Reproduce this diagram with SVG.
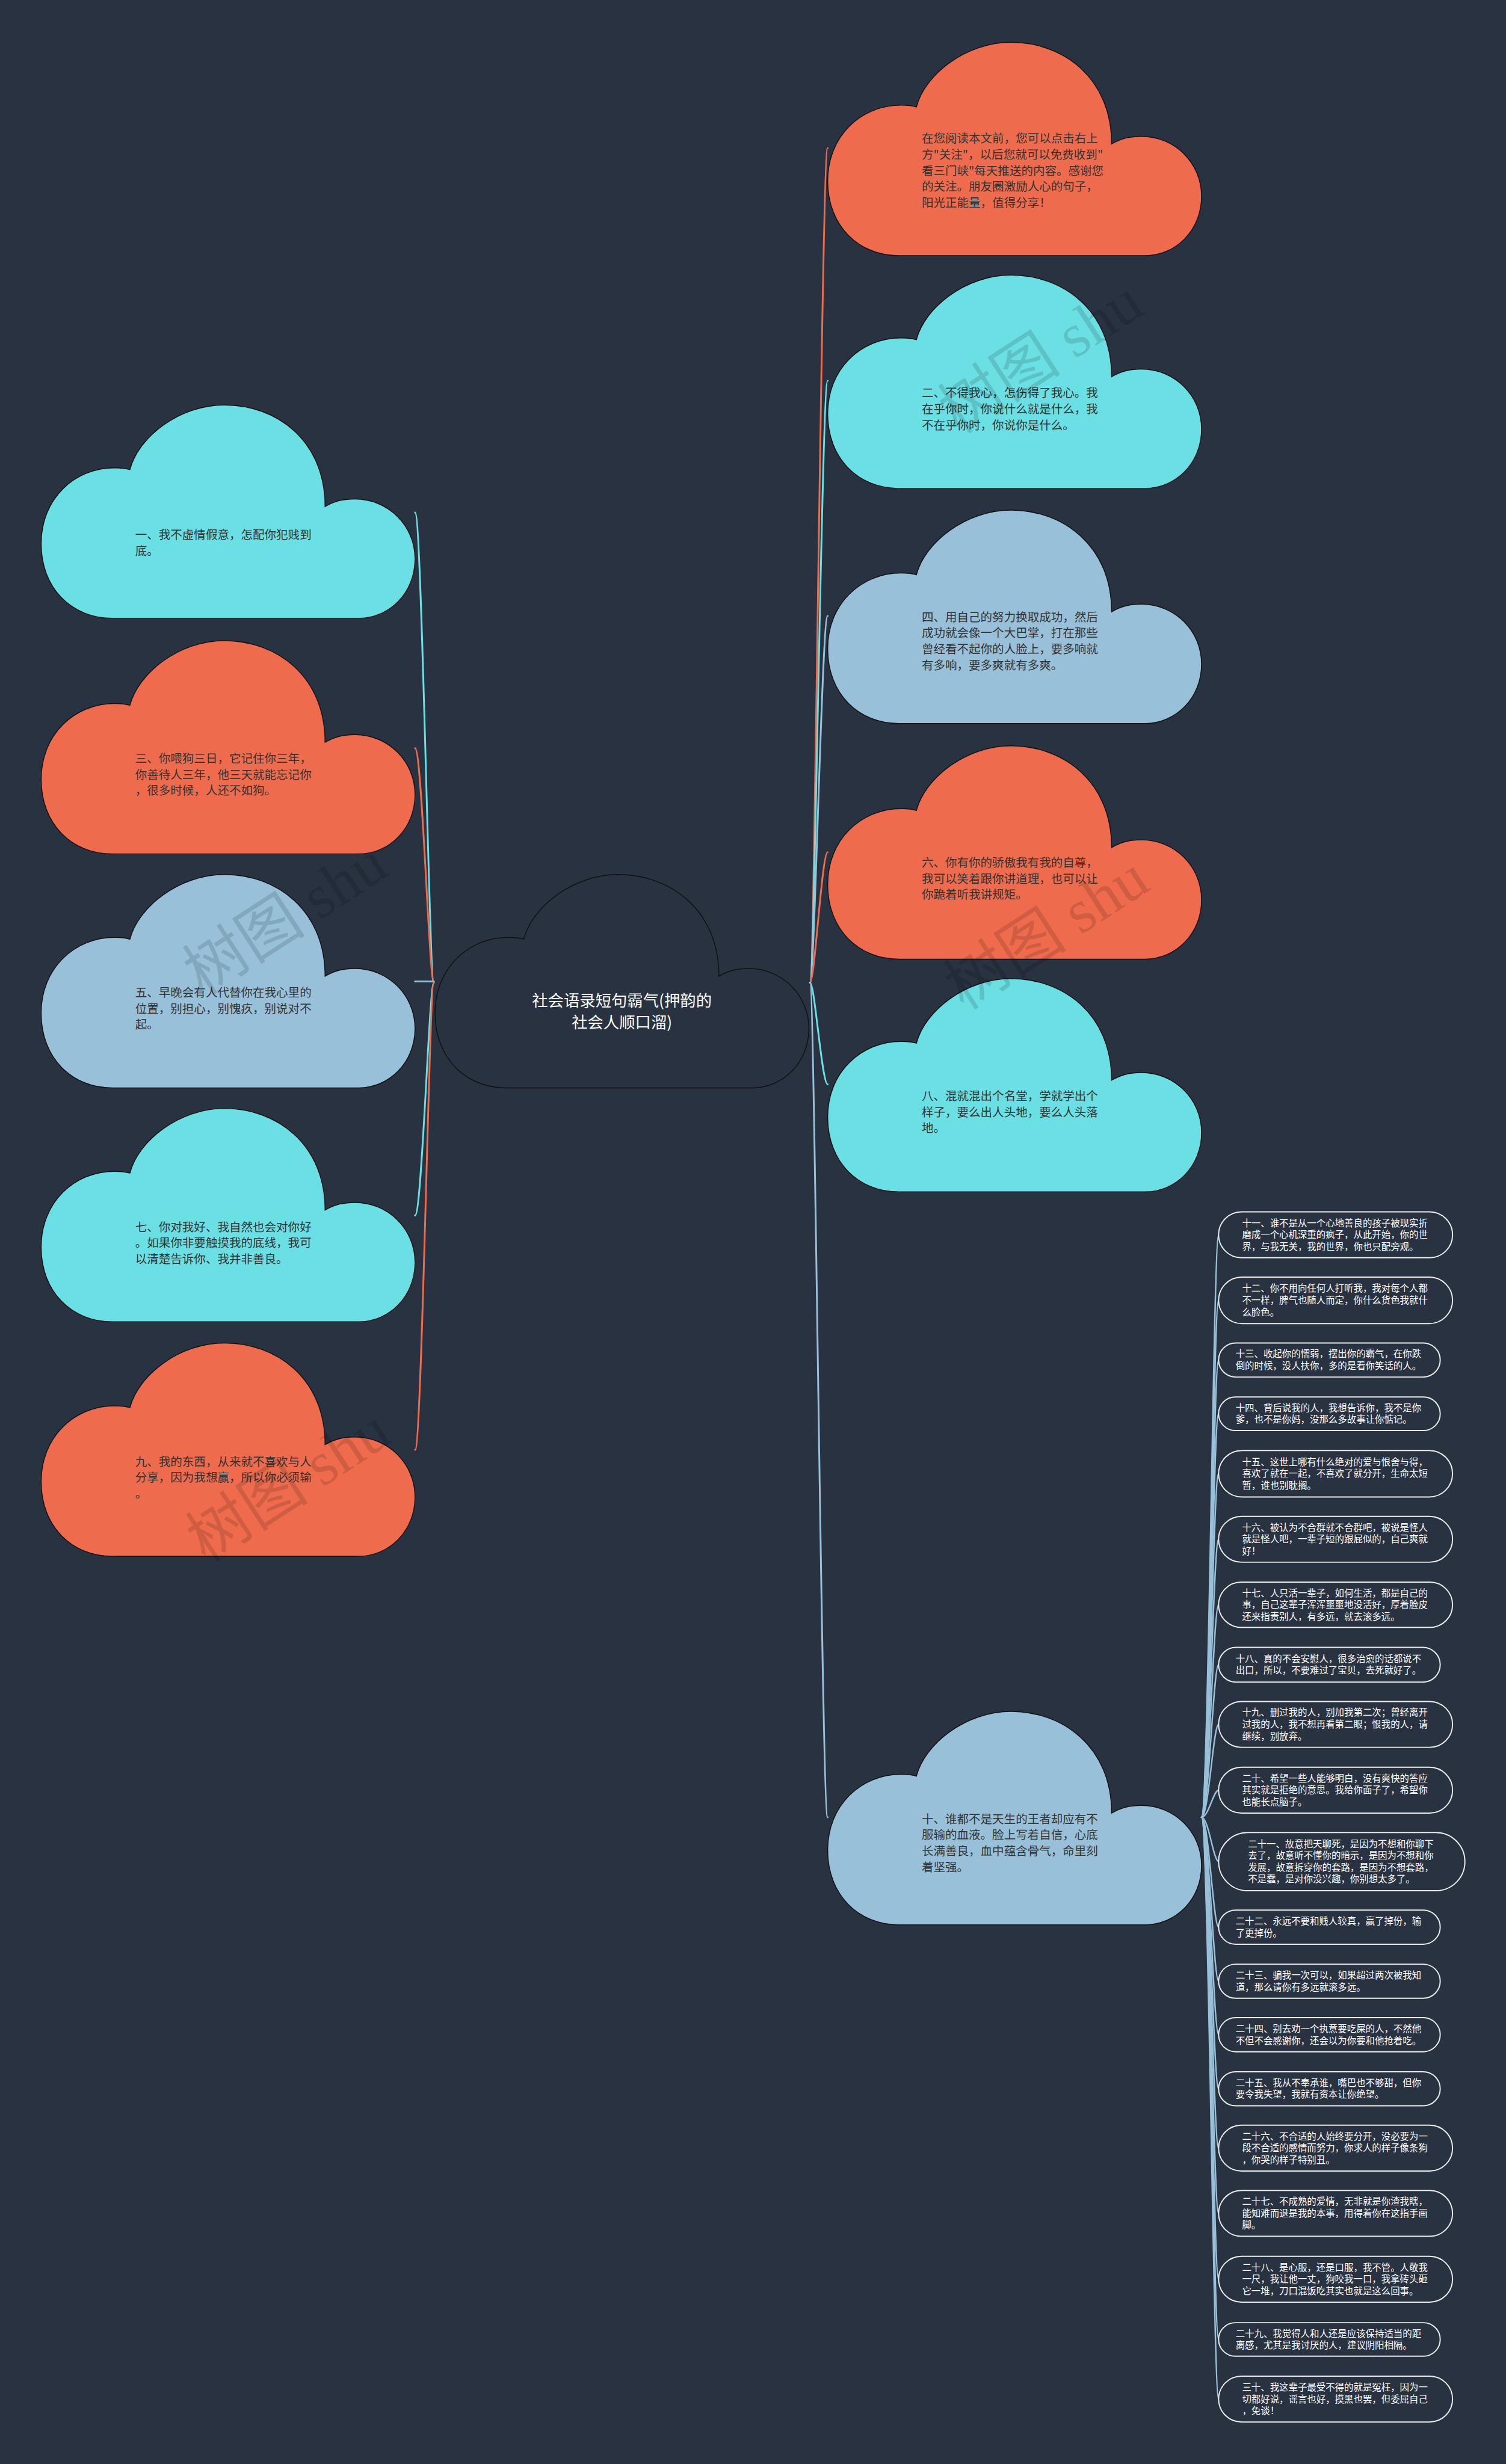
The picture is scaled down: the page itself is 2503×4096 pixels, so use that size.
<svg xmlns="http://www.w3.org/2000/svg" xmlns:xlink="http://www.w3.org/1999/xlink" width="2503" height="4096" viewBox="0 0 2503 4096">
<style>
.bg{fill:#293241}
.cl{stroke:#111;stroke-width:1.5}
.o{fill:#ee6c4d}.c{fill:#6be0e4}.b{fill:#98c1d9}.d{fill:#293241}
.ct{font-family:"Noto Sans CJK SC","Noto Sans",sans-serif;font-size:20px;fill:#333}
.mt{font-family:"Noto Sans CJK SC","Noto Sans",sans-serif;font-size:27px;fill:#fff;text-anchor:middle}
.bx{fill:#293241;stroke:#ececec;stroke-width:2}
.bt{font-family:"Noto Sans CJK SC","Noto Sans",sans-serif;font-size:15.8px;fill:#fff}
.ln{fill:none;stroke-width:3;stroke-linecap:round}
.lo{stroke:#ee6c4d}.lc{stroke:#6be0e4}.lb{stroke:#98c1d9}
.wm{font-family:"Liberation Serif","Noto Sans CJK SC",serif;font-size:105px;fill:#000;opacity:0.13}
</style>
<defs>
<path id="cloud" d="M151,110 C165,55 235,0 312,0 C400,0 483,60 483,173 C500,163 515,160 534,160 C590,160 636,205 636,262 C636,320 592,363 540,363 L121,363 C52,363 0,312 0,236 C0,160 56,107 125,107 C136,107 145,108 151,110 Z"/>
</defs>
<rect class="bg" x="0" y="0" width="2503" height="4096"/>
<g transform="scale(0.977)">
<g id="connectors">
<path class="ln lo" d="M1378,1672 C1386,1672 1398,252 1408,252"/>
<path class="ln lc" d="M1378,1672 C1386,1672 1398,648 1408,648"/>
<path class="ln lb" d="M1378,1672 C1386,1672 1398,1048 1408,1048"/>
<path class="ln lo" d="M1378,1672 C1386,1672 1398,1450 1408,1450"/>
<path class="ln lc" d="M1378,1672 C1386,1672 1398,1845 1408,1845"/>
<path class="ln lb" d="M1378,1672 C1386,1672 1398,3092 1408,3092"/>
<path class="ln lc" d="M738,1672 C730,1672 718,872 706,872"/>
<path class="ln lo" d="M738,1672 C730,1672 718,1273 706,1273"/>
<path class="ln lb" d="M738,1670 L706,1670"/>
<path class="ln lc" d="M738,1672 C730,1672 718,2068 706,2068"/>
<path class="ln lo" d="M738,1672 C730,1672 718,2467 706,2467"/>
<g class="ln lb" style="stroke-width:2.5">
<path d="M2044,3092 C2056,3092 2064,2101 2073,2101"/>
<path d="M2044,3092 C2056,3092 2064,2212 2073,2212"/>
<path d="M2044,3092 C2056,3092 2064,2314 2073,2314"/>
<path d="M2044,3092 C2056,3092 2064,2405 2073,2405"/>
<path d="M2044,3092 C2056,3092 2064,2507 2073,2507"/>
<path d="M2044,3092 C2056,3092 2064,2619 2073,2619"/>
<path d="M2044,3092 C2056,3092 2064,2730 2073,2730"/>
<path d="M2044,3092 C2056,3092 2064,2832 2073,2832"/>
<path d="M2044,3092 C2056,3092 2064,2934 2073,2934"/>
<path d="M2044,3092 C2056,3092 2064,3046 2073,3046"/>
<path d="M2044,3092 C2056,3092 2064,3167 2073,3167"/>
<path d="M2044,3092 C2056,3092 2064,3279 2073,3279"/>
<path d="M2044,3092 C2056,3092 2064,3371 2073,3371"/>
<path d="M2044,3092 C2056,3092 2064,3462 2073,3462"/>
<path d="M2044,3092 C2056,3092 2064,3554 2073,3554"/>
<path d="M2044,3092 C2056,3092 2064,3655 2073,3655"/>
<path d="M2044,3092 C2056,3092 2064,3766 2073,3766"/>
<path d="M2044,3092 C2056,3092 2064,3878 2073,3878"/>
<path d="M2044,3092 C2056,3092 2064,3980 2073,3980"/>
<path d="M2044,3092 C2056,3092 2064,4082 2073,4082"/>
</g>
</g>

<g id="center">
<use href="#cloud" class="cl d" x="740" y="1488"/>
<text class="mt" x="1058" y="1712">社会语录短句霸气(押韵的</text>
<text class="mt" x="1058" y="1749">社会人顺口溜)</text>
</g>

<g id="r1">
<use href="#cloud" class="cl o" x="1408" y="72"/>
<text class="ct" x="1568" y="243"><tspan x="1568">在您阅读本文前，您可以点击右上</tspan><tspan x="1568" dy="27.3">方"关注"，以后您就可以免费收到"</tspan><tspan x="1568" dy="27.3">看三门峡"每天推送的内容。感谢您</tspan><tspan x="1568" dy="27.3">的关注。朋友圈激励人心的句子，</tspan><tspan x="1568" dy="27.3">阳光正能量，值得分享！</tspan></text>
</g>
<g id="r2">
<use href="#cloud" class="cl c" x="1408" y="468"/>
<text class="ct" x="1568" y="676"><tspan x="1568">二、不得我心，怎伤得了我心。我</tspan><tspan x="1568" dy="27.3">在乎你时，你说什么就是什么，我</tspan><tspan x="1568" dy="27.3">不在乎你时，你说你是什么。</tspan></text>
</g>
<g id="r4">
<use href="#cloud" class="cl b" x="1408" y="868"/>
<text class="ct" x="1568" y="1057"><tspan x="1568">四、用自己的努力换取成功，然后</tspan><tspan x="1568" dy="27.3">成功就会像一个大巴掌，打在那些</tspan><tspan x="1568" dy="27.3">曾经看不起你的人脸上，要多响就</tspan><tspan x="1568" dy="27.3">有多响，要多爽就有多爽。</tspan></text>
</g>
<g id="r6">
<use href="#cloud" class="cl o" x="1408" y="1269"/>
<text class="ct" x="1568" y="1475"><tspan x="1568">六、你有你的骄傲我有我的自尊，</tspan><tspan x="1568" dy="27.3">我可以笑着跟你讲道理，也可以让</tspan><tspan x="1568" dy="27.3">你跪着听我讲规矩。</tspan></text>
</g>
<g id="r8">
<use href="#cloud" class="cl c" x="1408" y="1665"/>
<text class="ct" x="1568" y="1872"><tspan x="1568">八、混就混出个名堂，学就学出个</tspan><tspan x="1568" dy="27.3">样子，要么出人头地，要么人头落</tspan><tspan x="1568" dy="27.3">地。</tspan></text>
</g>
<g id="r10">
<use href="#cloud" class="cl b" x="1408" y="2912"/>
<text class="ct" x="1568" y="3102"><tspan x="1568">十、谁都不是天生的王者却应有不</tspan><tspan x="1568" dy="27.3">服输的血液。脸上写着自信，心底</tspan><tspan x="1568" dy="27.3">长满善良，血中蕴含骨气，命里刻</tspan><tspan x="1568" dy="27.3">着坚强。</tspan></text>
</g>

<g id="l1">
<use href="#cloud" class="cl c" x="70" y="689"/>
<text class="ct" x="230" y="917"><tspan x="230">一、我不虚情假意，怎配你犯贱到</tspan><tspan x="230" dy="27.3">底。</tspan></text>
</g>
<g id="l3">
<use href="#cloud" class="cl o" x="70" y="1090"/>
<text class="ct" x="230" y="1298"><tspan x="230">三、你喂狗三日，它记住你三年，</tspan><tspan x="230" dy="27.3">你善待人三年，他三天就能忘记你</tspan><tspan x="230" dy="27.3">，很多时候，人还不如狗。</tspan></text>
</g>
<g id="l5">
<use href="#cloud" class="cl b" x="70" y="1488"/>
<text class="ct" x="230" y="1696"><tspan x="230">五、早晚会有人代替你在我心里的</tspan><tspan x="230" dy="27.3">位置，别担心，别愧疚，别说对不</tspan><tspan x="230" dy="27.3">起。</tspan></text>
</g>
<g id="l7">
<use href="#cloud" class="cl c" x="70" y="1886"/>
<text class="ct" x="230" y="2095"><tspan x="230">七、你对我好、我自然也会对你好</tspan><tspan x="230" dy="27.3">。如果你非要触摸我的底线，我可</tspan><tspan x="230" dy="27.3">以清楚告诉你、我并非善良。</tspan></text>
</g>
<g id="l9">
<use href="#cloud" class="cl o" x="70" y="2285"/>
<text class="ct" x="230" y="2494"><tspan x="230">九、我的东西，从来就不喜欢与人</tspan><tspan x="230" dy="27.3">分享，因为我想赢，所以你必须输</tspan><tspan x="230" dy="27.3">。</tspan></text>
</g>

<g id="b11"><rect class="bx" x="2073" y="2062" width="398" height="78" rx="39"/>
<text class="bt" y="2086.6"><tspan x="2113">十一、谁不是从一个心地善良的孩子被现实折</tspan><tspan x="2113" dy="20">磨成一个心机深重的疯子，从此开始，你的世</tspan><tspan x="2113" dy="20">界，与我无关，我的世界，你也只配旁观。</tspan></text></g>
<g id="b12"><rect class="bx" x="2073" y="2173" width="398" height="79" rx="39.5"/>
<text class="bt" y="2198"><tspan x="2113">十二、你不用向任何人打听我，我对每个人都</tspan><tspan x="2113" dy="20">不一样，脾气也随人而定，你什么货色我就什</tspan><tspan x="2113" dy="20">么脸色。</tspan></text></g>
<g id="b13"><rect class="bx" x="2073" y="2285" width="377" height="58" rx="29"/>
<text class="bt" y="2309.6"><tspan x="2102">十三、收起你的懦弱，摆出你的霸气，在你跌</tspan><tspan x="2102" dy="20">倒的时候，没人扶你，多的是看你笑话的人。</tspan></text></g>
<g id="b14"><rect class="bx" x="2073" y="2377" width="377" height="57" rx="28.5"/>
<text class="bt" y="2401"><tspan x="2102">十四、背后说我的人，我想告诉你，我不是你</tspan><tspan x="2102" dy="20">爹，也不是你妈，没那么多故事让你惦记。</tspan></text></g>
<g id="b15"><rect class="bx" x="2073" y="2468" width="398" height="79" rx="39.5"/>
<text class="bt" y="2493"><tspan x="2113">十五、这世上哪有什么绝对的爱与恨舍与得，</tspan><tspan x="2113" dy="20">喜欢了就在一起，不喜欢了就分开，生命太短</tspan><tspan x="2113" dy="20">暂，谁也别耽搁。</tspan></text></g>
<g id="b16"><rect class="bx" x="2073" y="2580" width="398" height="78" rx="39"/>
<text class="bt" y="2604.6"><tspan x="2113">十六、被认为不合群就不合群吧，被说是怪人</tspan><tspan x="2113" dy="20">就是怪人吧，一辈子短的跟屁似的，自己爽就</tspan><tspan x="2113" dy="20">好！</tspan></text></g>
<g id="b17"><rect class="bx" x="2073" y="2692" width="398" height="77" rx="38.5"/>
<text class="bt" y="2716"><tspan x="2113">十七、人只活一辈子，如何生活，都是自己的</tspan><tspan x="2113" dy="20">事，自己这辈子浑浑噩噩地没活好，厚着脸皮</tspan><tspan x="2113" dy="20">还来指责别人，有多远，就去滚多远。</tspan></text></g>
<g id="b18"><rect class="bx" x="2073" y="2803" width="377" height="59" rx="29.5"/>
<text class="bt" y="2828"><tspan x="2102">十八、真的不会安慰人，很多治愈的话都说不</tspan><tspan x="2102" dy="20">出口，所以，不要难过了宝贝，去死就好了。</tspan></text></g>
<g id="b19"><rect class="bx" x="2073" y="2895" width="398" height="78" rx="39"/>
<text class="bt" y="2919.6"><tspan x="2113">十九、删过我的人，别加我第二次；曾经离开</tspan><tspan x="2113" dy="20">过我的人，我不想再看第二眼；恨我的人，请</tspan><tspan x="2113" dy="20">继续，别放弃。</tspan></text></g>
<g id="b20"><rect class="bx" x="2073" y="3007" width="398" height="78" rx="39"/>
<text class="bt" y="3031.6"><tspan x="2113">二十、希望一些人能够明白，没有爽快的答应</tspan><tspan x="2113" dy="20">其实就是拒绝的意思。我给你面子了，希望你</tspan><tspan x="2113" dy="20">也能长点脑子。</tspan></text></g>
<g id="b21"><rect class="bx" x="2073" y="3118" width="419" height="99" rx="49.5"/>
<text class="bt" y="3143"><tspan x="2123">二十一、故意把天聊死，是因为不想和你聊下</tspan><tspan x="2123" dy="20">去了，故意听不懂你的暗示，是因为不想和你</tspan><tspan x="2123" dy="20">发展，故意拆穿你的套路，是因为不想套路，</tspan><tspan x="2123" dy="20">不是蠢，是对你没兴趣，你别想太多了。</tspan></text></g>
<g id="b22"><rect class="bx" x="2073" y="3250" width="377" height="58" rx="29"/>
<text class="bt" y="3274.6"><tspan x="2102">二十二、永远不要和贱人较真，赢了掉份，输</tspan><tspan x="2102" dy="20">了更掉份。</tspan></text></g>
<g id="b23"><rect class="bx" x="2073" y="3342" width="377" height="58" rx="29"/>
<text class="bt" y="3366.6"><tspan x="2102">二十三、骗我一次可以，如果超过两次被我知</tspan><tspan x="2102" dy="20">道，那么请你有多远就滚多远。</tspan></text></g>
<g id="b24"><rect class="bx" x="2073" y="3433" width="377" height="58" rx="29"/>
<text class="bt" y="3457.6"><tspan x="2102">二十四、别去劝一个执意要吃屎的人，不然他</tspan><tspan x="2102" dy="20">不但不会感谢你，还会以为你要和他抢着吃。</tspan></text></g>
<g id="b25"><rect class="bx" x="2073" y="3525" width="377" height="58" rx="29"/>
<text class="bt" y="3549.6"><tspan x="2102">二十五、我从不奉承谁，嘴巴也不够甜，但你</tspan><tspan x="2102" dy="20">要令我失望，我就有资本让你绝望。</tspan></text></g>
<g id="b26"><rect class="bx" x="2073" y="3616" width="398" height="78" rx="39"/>
<text class="bt" y="3640.6"><tspan x="2113">二十六、不合适的人始终要分开，没必要为一</tspan><tspan x="2113" dy="20">段不合适的感情而努力，你求人的样子像条狗</tspan><tspan x="2113" dy="20">，你哭的样子特别丑。</tspan></text></g>
<g id="b27"><rect class="bx" x="2073" y="3727" width="398" height="78" rx="39"/>
<text class="bt" y="3751.6"><tspan x="2113">二十七、不成熟的爱情，无非就是你渣我瞎，</tspan><tspan x="2113" dy="20">能知难而退是我的本事，用得着你在这指手画</tspan><tspan x="2113" dy="20">脚。</tspan></text></g>
<g id="b28"><rect class="bx" x="2073" y="3839" width="398" height="78" rx="39"/>
<text class="bt" y="3863.6"><tspan x="2113">二十八、是心服，还是口服，我不管。人敬我</tspan><tspan x="2113" dy="20">一尺，我让他一丈，狗咬我一口，我拿砖头砸</tspan><tspan x="2113" dy="20">它一堆，刀口混饭吃其实也就是这么回事。</tspan></text></g>
<g id="b29"><rect class="bx" x="2073" y="3952" width="377" height="57" rx="28.5"/>
<text class="bt" y="3976"><tspan x="2102">二十九、我觉得人和人还是应该保持适当的距</tspan><tspan x="2102" dy="20">离感，尤其是我讨厌的人，建议阴阳相隔。</tspan></text></g>
<g id="b30"><rect class="bx" x="2073" y="4043" width="398" height="78" rx="39"/>
<text class="bt" y="4067.6"><tspan x="2113">三十、我这辈子最受不得的就是冤枉，因为一</tspan><tspan x="2113" dy="20">切都好说，谣言也好，摸黑也罢，但委屈自己</tspan><tspan x="2113" dy="20">，免谈！</tspan></text></g>

<g id="watermarks">
<text class="wm" transform="translate(1630,740) rotate(-33)">树图 shu</text>
<text class="wm" transform="translate(1640,1720) rotate(-33)">树图 shu</text>
<text class="wm" transform="translate(345,1695) rotate(-33)">树图 shu</text>
<text class="wm" transform="translate(350,2660) rotate(-33)">树图 shu</text>
</g>
</g>
</svg>
